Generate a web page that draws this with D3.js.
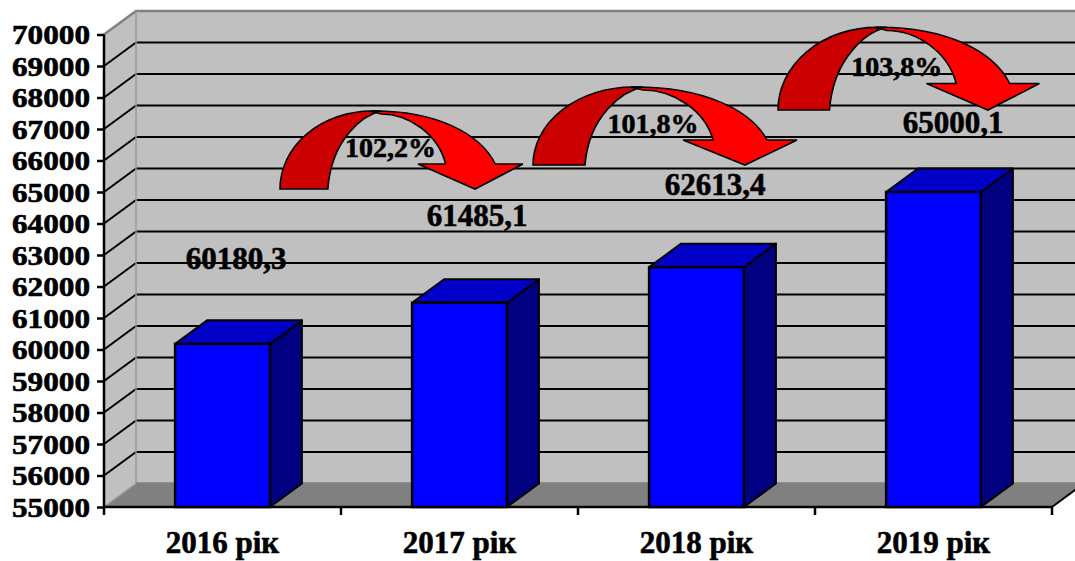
<!DOCTYPE html>
<html><head><meta charset="utf-8">
<script src="https://cdn.jsdelivr.net/npm/d3@7"></script>
<style>
html,body{margin:0;padding:0;background:#fff;}
text{font-family:"Liberation Serif","Times New Roman",serif;font-weight:bold;fill:#000;stroke:#000;stroke-width:0.6px;}
</style></head>
<body>
<svg id="chart" width="1075" height="561"></svg>
<script>
// ---- data ----
const categories = ["2016 рік", "2017 рік", "2018 рік", "2019 рік"];
const values = [60180.3, 61485.1, 62613.4, 65000.1];
const valueLabels = ["60180,3", "61485,1", "62613,4", "65000,1"];
const growthLabels = ["102,2%", "101,8%", "103,8%"];
const yTicks = [55000, 56000, 57000, 58000, 59000, 60000, 61000, 62000, 63000, 64000, 65000, 66000, 67000, 68000, 69000, 70000];

// ---- layout ----
const L = 104, R = 1052, B = 507, T = 34.5, DX = 32, DY = -23.5;
const svg = d3.select("#chart");
const y = d3.scaleLinear().domain([55000, 70000]).range([B, T]);
const x = d3.scaleBand().domain(categories).range([L, R]).padding(0);
const bw = x.bandwidth() * 0.4;

const g = svg.append("g");
// back wall
g.append("rect").attr("x", L + DX).attr("y", T + DY).attr("width", 1075).attr("height", B - T)
  .attr("fill", "#c0c0c0");
// side wall
g.append("path").attr("d", `M${L},${B}L${L},${T}L${L + DX},${T + DY}L${L + DX},${B + DY}Z`).attr("fill", "#c0c0c0");
// floor
g.append("path").attr("d", `M${L},${B}L${R},${B}L${R + DX},${B + DY}L${L + DX},${B + DY}Z`).attr("fill", "#808080");

// gridlines (back wall + side wall)
const grid = yTicks.filter(t => t > 55000 && t < 70000);
g.selectAll(".gb").data(grid).join("line")
  .attr("x1", L + DX).attr("x2", 1080).attr("y1", d => y(d) + DY).attr("y2", d => y(d) + DY)
  .attr("stroke", "#000").attr("stroke-width", 2);
g.selectAll(".gs").data(grid).join("line")
  .attr("x1", L).attr("x2", L + DX).attr("y1", d => y(d)).attr("y2", d => y(d) + DY)
  .attr("stroke", "#000").attr("stroke-width", 2);
// wall borders (gray)
g.append("path").attr("d", `M${L},${T}L${L + DX},${T + DY}L1080,${T + DY}M${L + DX},${B + DY}L1080,${B + DY}`)
  .attr("fill", "none").attr("stroke", "#808080").attr("stroke-width", 2.5);
g.append("path").attr("d", `M${L + DX},${T + DY}L${L + DX},${B + DY}M${L},${B}L${L + DX},${B + DY}`)
  .attr("fill", "none").attr("stroke", "#999").attr("stroke-width", 1.5);
// floor right edge
g.append("line").attr("x1", R).attr("y1", B).attr("x2", R + DX).attr("y2", B + DY).attr("stroke", "#000").attr("stroke-width", 2);

// y axis
const yAxis = svg.append("g").attr("transform", `translate(${L},0)`)
  .call(d3.axisLeft(y).tickValues(yTicks).tickSize(7).tickPadding(7).tickFormat(d3.format("d")));
yAxis.select(".domain").attr("stroke", "#000").attr("stroke-width", 2.5).attr("d", `M0,${T}V${B}`);
yAxis.selectAll(".tick line").attr("stroke", "#000").attr("stroke-width", 2.5);
yAxis.selectAll(".tick text").attr("font-size", 27).attr("dy", "0.35em")
  .attr("textLength", 78).attr("lengthAdjust", "spacingAndGlyphs");

// x axis line + ticks at category boundaries
svg.append("line").attr("x1", L).attr("x2", R).attr("y1", B).attr("y2", B).attr("stroke", "#000").attr("stroke-width", 2.5);
const bounds = categories.map(c => x(c)).concat([R]);
svg.selectAll(".xt").data(bounds).join("line")
  .attr("x1", d => d).attr("x2", d => d).attr("y1", B).attr("y2", B + 8)
  .attr("stroke", "#000").attr("stroke-width", 2.5);
svg.selectAll(".xl").data(categories).join("text")
  .attr("x", d => x(d) + x.bandwidth() / 2).attr("y", 553)
  .attr("text-anchor", "middle").attr("font-size", 31).text(d => d);

// bars
const bars = svg.selectAll(".bar").data(values).join("g");
bars.each(function (v, i) {
  const cx = x(categories[i]) + x.bandwidth() / 2;
  const x0 = cx - bw / 2, x1 = cx + bw / 2, yt = y(v);
  const s = d3.select(this);
  s.append("path").attr("d", `M${x1},${yt}L${x1 + DX},${yt + DY}L${x1 + DX},${B + DY}L${x1},${B}Z`)
    .attr("fill", "#000080").attr("stroke", "#000").attr("stroke-width", 2).attr("stroke-linejoin", "round");
  s.append("path").attr("d", `M${x0},${yt}L${x1},${yt}L${x1 + DX},${yt + DY}L${x0 + DX},${yt + DY}Z`)
    .attr("fill", "#0000c8").attr("stroke", "#000").attr("stroke-width", 2).attr("stroke-linejoin", "round");
  s.append("rect").attr("x", x0).attr("y", yt).attr("width", bw).attr("height", B - yt)
    .attr("fill", "#0000ff").attr("stroke", "#000").attr("stroke-width", 2.5);
});

// value labels (annotation offsets relative to bar)
const labelOff = [[13.5, 75], [17.5, 77], [18.5, 72], [19.5, 59]];
svg.selectAll(".vl").data(valueLabels).join("text")
  .attr("x", (d, i) => x(categories[i]) + x.bandwidth() / 2 + labelOff[i][0])
  .attr("y", (d, i) => y(values[i]) - labelOff[i][1])
  .attr("text-anchor", "middle").attr("font-size", 31).text(d => d);

// curved growth arrows
const arrowPos = [
  { dx: 57.5, v: 65095, sx: 0.92, sy: 1.0 },
  { dx: 73.5, v: 65857, sx: 1.0, sy: 1.0 },
  { dx: 81.5, v: 67603, sx: 0.99, sy: 1.06 }
];
const darkD = "M0,0 A100,78 0 0 1 100,-78 L110,-78 C90,-74 56,-50 52,0 Z";
const brightD = "M98,-78 C170,-79 218,-55 234,-25 L264,-25 L212,0 L150,-25 L180,-25 C172,-55 140,-75 110,-75 Z";
growthLabels.forEach((lbl, i) => {
  const p = arrowPos[i];
  const ax = x(categories[i]) + x.bandwidth() / 2 + p.dx, ay = y(p.v);
  const a = svg.append("g").attr("transform", `translate(${ax},${ay}) scale(${p.sx},${p.sy})`);
  a.append("path").attr("d", darkD).attr("fill", "#cc0000").attr("stroke", "#000").attr("stroke-width", 1.6).attr("vector-effect", "non-scaling-stroke");
  a.append("path").attr("d", brightD).attr("fill", "#ff0000").attr("stroke", "#000").attr("stroke-width", 1.6).attr("vector-effect", "non-scaling-stroke");
  svg.append("text").attr("x", ax + 120 * p.sx).attr("y", ay - 32 * p.sy)
    .attr("text-anchor", "middle").attr("font-size", 28).text(lbl);
});
</script>
</body></html>
